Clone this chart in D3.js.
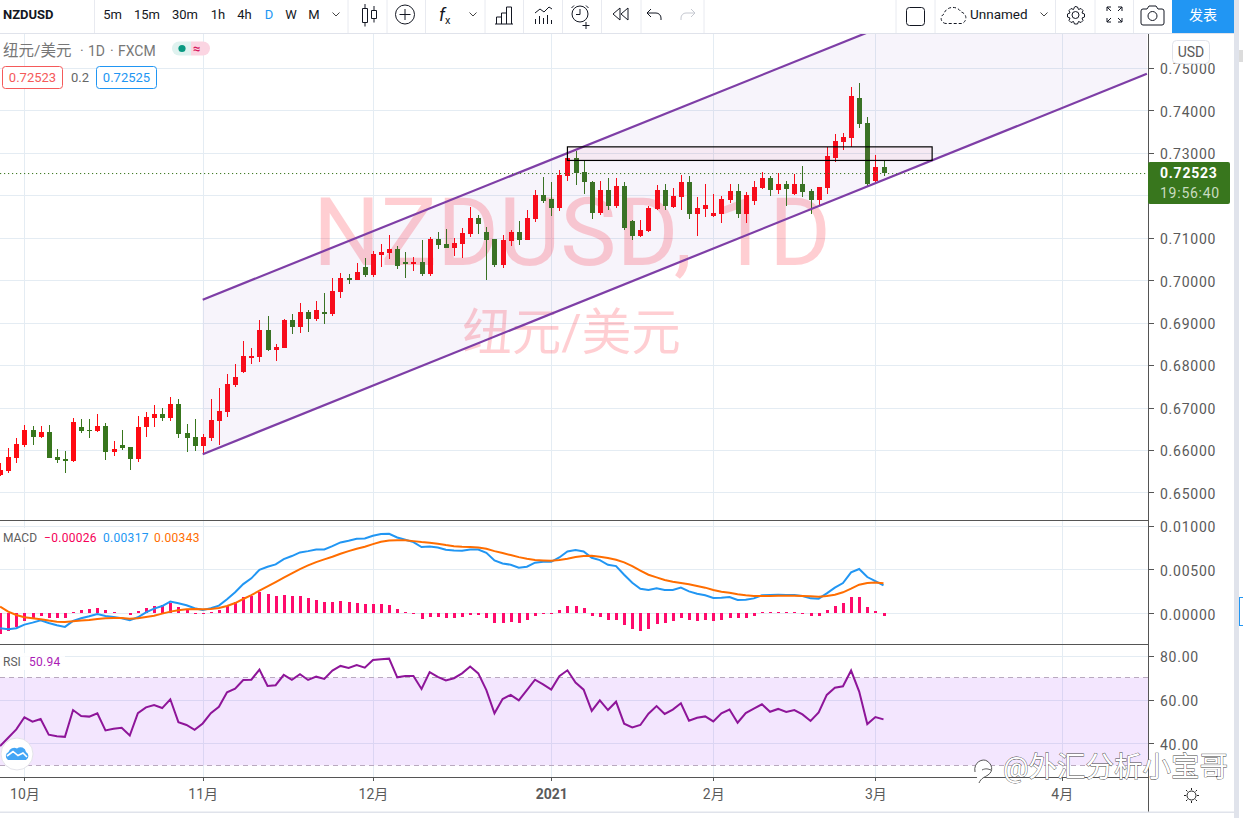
<!DOCTYPE html>
<html><head><meta charset="utf-8">
<style>html,body{margin:0;padding:0;background:#fff;overflow:hidden}svg{display:block}text{font-family:Roboto,"Noto Sans CJK SC",sans-serif}</style>
<script src="https://cdn.jsdelivr.net/npm/d3@7/dist/d3.min.js"></script>
</head><body><svg id="c" width="1243" height="818"></svg>
<script>
const opens=[.6541,.6551,.6582,.6612,.6647,.6631,.6642,.6583,.6578,.6574,
.6654,.6647,.6645,.6656,.6596,.6612,.6607,.6579,.6653,.6675,
.6685,.6675,.6708,.6640,.6630,.6609,.6628,.6668,.6689,.6753,
.6784,.6819,.6819,.6883,.6835,.6840,.6906,.6890,.6925,.6908,
.6925,.6920,.6972,.7005,.7000,.7031,.7012,.7059,.7064,.7073,
.7043,.7038,.7043,.7014,.7097,.7085,.7076,.7085,.7109,.7146,
.7113,.7097,.7036,.7092,.7113,.7095,.7144,.7201,.7191,.7170,
.7245,.7288,.7255,.7231,.7158,.7212,.7175,.7222,.7139,.7104,
.7116,.7168,.7212,.7172,.7196,.7231,.7156,.7168,.7151,.7156,
.7189,.7210,.7156,.7186,.7217,.7241,.7212,.7226,.7203,.7226,
.7210,.7189,.7217,.7288,.7325,.7335,.7429,.7370,.7234,.7267];
const highs=[.6569,.6605,.6628,.6659,.6657,.6657,.6659,.6602,.6597,.6675,
.6673,.6673,.6685,.6663,.6621,.6647,.6607,.6680,.6689,.6706,
.6699,.6725,.6720,.6661,.6673,.6637,.6720,.6746,.6779,.6802,
.6857,.6840,.6906,.6916,.6850,.6908,.6920,.6946,.6930,.6951,
.6970,.7005,.7017,.7015,.7040,.7052,.7069,.7085,.7106,.7080,
.7066,.7055,.7095,.7102,.7113,.7120,.7099,.7123,.7172,.7153,
.7125,.7097,.7106,.7118,.7139,.7165,.7212,.7243,.7231,.7259,
.7307,.7304,.7283,.7234,.7234,.7241,.7241,.7231,.7142,.7142,
.7175,.7224,.7226,.7217,.7248,.7245,.7196,.7226,.7203,.7198,
.7226,.7226,.7208,.7234,.7255,.7245,.7252,.7234,.7250,.7269,
.7215,.7219,.7314,.7344,.7347,.7455,.7464,.7384,.7295,.7281];
const lows=[.6539,.6546,.6570,.6607,.6612,.6628,.6582,.6570,.6546,.6572,
.6641,.6628,.6643,.6576,.6586,.6600,.6553,.6572,.6630,.6654,
.6668,.6668,.6628,.6595,.6597,.6589,.6621,.6612,.6678,.6749,
.6781,.6802,.6807,.6833,.6809,.6840,.6873,.6875,.6878,.6904,
.6897,.6916,.6958,.6991,.7000,.7007,.7007,.7031,.7050,.7026,
.7005,.7022,.7010,.7010,.7073,.7076,.7057,.7052,.7102,.7109,
.7000,.7031,.7029,.7080,.7083,.7095,.7137,.7182,.7151,.7163,
.7234,.7224,.7203,.7144,.7153,.7165,.7170,.7118,.7095,.7102,
.7113,.7165,.7165,.7170,.7165,.7144,.7104,.7149,.7149,.7135,
.7182,.7146,.7135,.7177,.7215,.7198,.7203,.7175,.7201,.7196,
.7156,.7175,.7203,.7278,.7307,.7314,.7358,.7222,.7229,.7245];
const closes=[.6553,.6583,.6613,.6647,.6631,.6642,.6582,.6576,.6574,.6667,
.6645,.6645,.6656,.6596,.6602,.6604,.6579,.6654,.6678,.6685,
.6675,.6708,.6638,.6628,.6609,.6630,.6671,.6692,.6755,.6772,
.6821,.6821,.6883,.6835,.6842,.6906,.6890,.6925,.6908,.6930,
.6920,.6974,.7005,.7000,.7019,.7012,.7062,.7066,.7073,.7033,
.7038,.7043,.7014,.7097,.7083,.7076,.7087,.7111,.7146,.7132,
.7095,.7036,.7095,.7113,.7095,.7146,.7201,.7186,.7170,.7248,
.7288,.7252,.7231,.7158,.7212,.7175,.7222,.7123,.7104,.7118,
.7170,.7212,.7175,.7198,.7231,.7156,.7170,.7177,.7158,.7191,
.7210,.7156,.7201,.7219,.7241,.7212,.7226,.7215,.7226,.7208,
.7189,.7219,.7292,.7328,.7337,.7434,.7368,.7226,.7267,.72523];
// MACD values in units of 0.00001
const macdLine=[-170,-182,-170,-129,-106,-80,-110,-136,-155,-87,
-57,-34,-8,-30,-42,-57,-80,-45,11,53,
83,133,114,91,57,38,57,87,159,239,
333,398,496,530,557,617,652,693,708,727,
727,765,807,826,849,852,883,902,905,864,
837,811,754,761,750,724,716,712,727,727,
689,602,568,553,519,530,576,587,587,636,
705,720,705,633,606,553,538,439,348,280,
265,284,265,265,292,250,223,205,174,178,
186,152,155,170,205,208,212,208,208,197,
170,167,227,292,345,466,504,413,367,317];
const signalLine=[76,19,-19,-45,-57,-68,-83,-95,-98,-91,
-83,-76,-64,-57,-53,-53,-61,-57,-42,-27,
-4,19,34,45,49,45,49,61,83,117,
163,208,258,307,356,405,455,504,545,583,
614,644,678,708,735,758,788,814,830,833,
833,822,811,803,792,777,765,758,754,750,
735,708,686,663,640,621,606,602,598,606,
621,640,652,655,644,629,610,580,538,485,
439,409,379,360,345,330,311,292,265,246,
235,216,205,197,197,197,201,201,201,197,
193,189,197,212,239,280,326,345,352,343];
const macdHist=[-235,-197,-159,-87,-57,-34,-49,-53,-53,19,
38,49,61,38,15,4,-19,27,61,83,
91,117,72,45,-8,-11,11,42,87,129,
186,193,242,220,197,208,197,197,174,152,
129,129,140,129,117,106,106,106,95,49,
15,-8,-61,-42,-42,-49,-49,-42,-19,-19,
-53,-106,-106,-95,-106,-76,-30,-8,-8,38,
83,83,61,-30,-42,-76,-76,-133,-178,-197,
-178,-121,-110,-87,-53,-76,-87,-76,-87,-76,
-53,-53,-49,-30,15,15,15,15,15,-8,
-30,-30,38,83,117,186,186,72,27,-26];
const rsiLine=[38.8,42.6,46.4,51.9,49.9,51.1,44.0,43.3,43.0,55.2,
52.5,52.2,53.7,45.9,46.7,47.1,43.6,53.8,56.4,57.5,
56.1,60.1,49.7,48.4,46.2,49.1,53.8,56.7,63.3,64.9,
68.9,69.0,73.6,66.2,66.5,71.2,69.0,71.5,68.9,70.4,
69.4,73.2,75.3,74.4,75.7,74.5,78.0,78.3,78.6,70.1,
70.7,70.7,64.8,72.5,70.3,68.7,69.7,71.9,75.0,71.9,
64.3,53.7,60.2,62.1,59.6,64.3,69.0,66.9,64.5,70.6,
73.3,67.7,64.5,54.8,59.6,55.2,59.0,49.0,47.3,48.4,
53.5,57.0,53.4,55.4,58.3,50.3,51.7,52.3,50.0,53.7,
55.4,49.4,53.8,55.8,57.8,54.4,55.7,54.3,55.2,53.2,
50.2,54.1,62.1,65.4,66.0,73.2,63.6,48.8,52.0,50.94];
const priceTicks=[.75,.74,.73,.72,.71,.70,.69,.68,.67,.66,.65];
const macdTicks=[1000,500,0];
const rsiTicks=[80,60,40];
const rsiBand=[70,30];
const monthIdx=[3,25,46,68,88,108,131];
const monthLabels=['10月','11月','12月','2021','2月','3月','4月'];
const channelIdx=[25,141.5];
const channelUpper=[.6954,.7848];
const channelLower=[.6590,.7486];
const boxIdx=[70,115];
const boxPrice=[.7314,.7282];
const lastPrice=.72523;
const timeframes=['5m','15m','30m','1h','4h','D','W','M'];

const svg=d3.select('#c');
const CW=1148;
const panes={main:[34,520],macd:[521,644],rsi:[645,777]};
const x=d3.scaleLinear().domain([0,109]).range([0.1,883.5]);
const yP=d3.scaleLinear().domain([.65,.75]).range([492.4,67.9]);
const yM=d3.scaleLinear().domain([0,1000]).range([613.3,525.5]);
const yR=d3.scaleLinear().domain([40,80]).range([743.4,655.6]);
const defs=svg.append('defs');
Object.entries(panes).forEach(([k,[a,b]])=>defs.append('clipPath').attr('id','clip-'+k).append('rect').attr('x',0).attr('y',a).attr('width',CW).attr('height',b-a));
const GRID='#e4ecf3',AXC='#555555',TXT='#5a5a5a';

// vertical month grid
const gridV=svg.append('g').attr('transform','translate(0,34)').attr('shape-rendering','crispEdges')
 .call(d3.axisBottom(x).tickValues(monthIdx).tickSize(743).tickFormat(''));
gridV.select('.domain').remove();gridV.selectAll('line').attr('stroke',GRID);
function hGrid(scale,ticks,clip){const g=svg.append('g').attr('clip-path','url(#clip-'+clip+')').attr('shape-rendering','crispEdges')
 .call(d3.axisRight(scale).tickValues(ticks).tickSize(CW).tickFormat(''));
 g.select('.domain').remove();g.selectAll('line').attr('stroke',GRID);}
hGrid(yP,priceTicks,'main');hGrid(yM,macdTicks,'macd');hGrid(yR,rsiTicks,'rsi');

// watermark
const wm=svg.append('g').attr('text-anchor','middle').attr('fill','rgba(255,30,50,.22)');
wm.append('text').attr('x',572).attr('y',265).attr('font-size',94.5).text('NZDUSD, 1D');
wm.append('text').attr('x',571.5).attr('y',350).attr('font-size',49.5).text('纽元/美元');

// candles
const idx=d3.range(opens.length);
const main=svg.append('g').attr('clip-path','url(#clip-main)');
const col=i=>closes[i]>=opens[i]?'#ff0a12':'#38761d';
const cg=main.append('g').attr('shape-rendering','crispEdges');
cg.selectAll('.w').data(idx).join('rect').attr('x',i=>Math.round(x(i))).attr('width',1)
 .attr('y',i=>yP(highs[i])).attr('height',i=>yP(lows[i])-yP(highs[i])).attr('fill',col);
cg.selectAll('.b').data(idx).join('rect').attr('x',i=>Math.round(x(i))-2).attr('width',5)
 .attr('y',i=>yP(Math.max(opens[i],closes[i]))).attr('height',i=>Math.max(1.5,Math.abs(yP(opens[i])-yP(closes[i])))).attr('fill',col);

// channel
const chPts=[[channelIdx[0],channelUpper[0]],[channelIdx[1],channelUpper[1]],[channelIdx[1],channelLower[1]],[channelIdx[0],channelLower[0]]];
main.append('path').attr('d',d3.line().x(d=>x(d[0])).y(d=>yP(d[1]))(chPts)+'Z').attr('fill','rgba(103,58,183,.055)');
[channelUpper,channelLower].forEach(c=>main.append('path').attr('d',d3.line().x((d,i)=>x(channelIdx[i])).y(d=>yP(d))(c)).attr('fill','none').attr('stroke','#7e3ea6').attr('stroke-width',2.2));
// box
main.append('rect').attr('x',x(boxIdx[0])).attr('y',yP(boxPrice[0])).attr('width',x(boxIdx[1])-x(boxIdx[0])).attr('height',yP(boxPrice[1])-yP(boxPrice[0]))
 .attr('fill','rgba(233,30,99,.05)').attr('stroke','#000').attr('stroke-width',1.2);
// last price line
main.append('line').attr('x1',0).attr('x2',CW).attr('y1',yP(lastPrice)+.5).attr('y2',yP(lastPrice)+.5).attr('stroke','#38761d').attr('stroke-dasharray','1.2 2.8');

// MACD
const mg=svg.append('g').attr('clip-path','url(#clip-macd)');
mg.append('g').attr('shape-rendering','crispEdges').selectAll('rect').data(idx).join('rect').attr('x',i=>Math.round(x(i))-1).attr('width',3)
 .attr('y',i=>Math.min(yM(0),yM(macdHist[i]))).attr('height',i=>Math.abs(yM(macdHist[i])-yM(0))).attr('fill','#ff0a6c');
const lineM=d3.line().x((d,i)=>x(i)).y(d=>yM(d));
mg.append('path').attr('d',lineM(macdLine)).attr('fill','none').attr('stroke','#2196f3').attr('stroke-width',2);
mg.append('path').attr('d',lineM(signalLine)).attr('fill','none').attr('stroke','#ff6d00').attr('stroke-width',2);

// RSI
const rg=svg.append('g').attr('clip-path','url(#clip-rsi)');
rg.append('rect').attr('x',0).attr('width',CW).attr('y',yR(rsiBand[0])).attr('height',yR(rsiBand[1])-yR(rsiBand[0])).attr('fill','rgba(160,50,250,.12)');
rsiBand.forEach(v=>rg.append('line').attr('x1',0).attr('x2',CW).attr('y1',yR(v)).attr('y2',yR(v)).attr('stroke','#b9a9bf').attr('stroke-dasharray','5 4').attr('shape-rendering','crispEdges'));
rg.append('path').attr('d',d3.line().x((d,i)=>x(i)).y(d=>yR(d))(rsiLine)).attr('fill','none').attr('stroke','#8e1599').attr('stroke-width',2);

// pane separators
[[520.5],[644.5]].forEach(([y])=>svg.append('line').attr('x1',0).attr('x2',CW).attr('y1',y).attr('y2',y).attr('stroke',AXC));
// price-axis column
function rAxis(scale,ticks,fmt){const g=svg.append('g').attr('transform','translate('+CW+',0)').attr('shape-rendering','crispEdges')
 .call(d3.axisRight(scale).tickValues(ticks).tickSize(6).tickPadding(6).tickFormat(fmt));
 g.select('.domain').remove();g.selectAll('line').attr('stroke',AXC);
 g.selectAll('text').attr('dy','.42em').attr('font-size',14).attr('fill',TXT).attr('letter-spacing','.75px').attr('shape-rendering','auto');}
// 0.72000 sits under the last-price tag, so its label stays empty as in the reference
rAxis(yP,priceTicks,d=>d===.72?'':d3.format('.5f')(d));
rAxis(yM,macdTicks,d=>(d/1e5).toFixed(5));
rAxis(yR,rsiTicks,d3.format('.2f'));
svg.append('line').attr('x1',CW+.5).attr('x2',CW+.5).attr('y1',34).attr('y2',812).attr('stroke',AXC);
// time axis
const tg=svg.append('g').attr('transform','translate(0,777)').attr('shape-rendering','crispEdges')
 .call(d3.axisBottom(x).tickValues(monthIdx).tickSize(4).tickPadding(8).tickFormat((d,i)=>monthLabels[i]));
tg.select('.domain').attr('d','M0,0.5H'+CW).attr('stroke',AXC);tg.selectAll('line').attr('stroke',AXC);
tg.selectAll('text').attr('font-size',14).attr('fill',TXT).attr('font-weight',d=>d===68?700:400);

// last-price tag
const tag=svg.append('g');
tag.append('rect').attr('x',CW).attr('y',162).attr('width',82).attr('height',42).attr('rx',2).attr('fill','#38761d');
tag.append('text').attr('x',1160).attr('y',178).attr('font-size',14).attr('font-weight',700).attr('letter-spacing','.75px').attr('fill','#fff').text(lastPrice.toFixed(5));
tag.append('text').attr('x',1160).attr('y',198).attr('font-size',14).attr('letter-spacing','.75px').attr('fill','#c9dcc0').text('19:56:40');
// USD
svg.append('rect').attr('x',1172.5).attr('y',40.5).attr('width',37).attr('height',23).attr('rx',4).attr('fill','rgba(255,255,255,.9)').attr('stroke','#e0e3eb');
svg.append('text').attr('x',1191).attr('y',57).attr('text-anchor','middle').attr('font-size',14).attr('fill',TXT).text('USD');

// legends
function tx(g,xx,y,s,size,fill,extra){const t=g.append('text').attr('x',xx).attr('y',y).attr('font-size',size).attr('fill',fill).text(s);if(extra)Object.entries(extra).forEach(([k,v])=>t.attr(k,v));return t;}
const lg=svg.append('g');
lg.append('rect').attr('x',0).attr('y',528).attr('width',203).attr('height',19).attr('fill','rgba(255,255,255,.85)');
tx(lg,3,542,'MACD',12,'#5e5e5e');
tx(lg,44,542,'−0.00026',12,'#f50057',{'letter-spacing':'.3px'});
tx(lg,103,542,'0.00317',12,'#2196f3',{'letter-spacing':'.3px'});
tx(lg,154,542,'0.00343',12,'#ff6d00',{'letter-spacing':'.3px'});
lg.append('rect').attr('x',0).attr('y',653).attr('width',65).attr('height',17).attr('fill','rgba(255,255,255,.85)');
tx(lg,3,666,'RSI',12,'#5e5e5e');
tx(lg,29,666,'50.94',12,'#ab1bb5',{'letter-spacing':'.3px'});
tx(lg,3,56,'纽元/美元',15.5,'#777');
tx(lg,80,56,'·',14,'#777');
tx(lg,88,56,'1D',14,'#777');
tx(lg,110,56,'·',14,'#777');
tx(lg,118,56,'FXCM',14,'#777');
lg.append('path').attr('d','M179,41.5h12v14h-12a7,7 0 0 1 0,-14Z').attr('fill','#dff2ef');
lg.append('path').attr('d','M191,41.5h12a7,7 0 0 1 0,14h-12Z').attr('fill','#fbd5e2');
lg.append('circle').attr('cx',182).attr('cy',48.5).attr('r',3.6).attr('fill','#089981');
tx(lg,196.5,53,'≈',13,'#d81b60',{'text-anchor':'middle','font-weight':700});
lg.append('rect').attr('x',2.5).attr('y',66.5).attr('width',60).attr('height',22).attr('rx',3).attr('fill','#fff').attr('stroke','#f55a5a');
tx(lg,32.5,82,'0.72523',13,'#f55a5a',{'text-anchor':'middle'});
tx(lg,71,82,'0.2',13,'#666');
lg.append('rect').attr('x',96.5).attr('y',66.5).attr('width',60).attr('height',22).attr('rx',3).attr('fill','#fff').attr('stroke','#2196f3');
tx(lg,126.5,82,'0.72525',13,'#2196f3',{'text-anchor':'middle'});

// toolbar
const tb=svg.append('g');
tb.append('rect').attr('width',1243).attr('height',33).attr('fill','#fff');
tb.append('line').attr('x1',0).attr('x2',1234).attr('y1',33.5).attr('y2',33.5).attr('stroke','#e0e3eb');
[94,347.5,386.5,425,484.5,523,562,601,640.5,703.5,895.5,934.5,1055,1094.5,1133].forEach(v=>tb.append('line').attr('x1',v+.5).attr('x2',v+.5).attr('y1',0).attr('y2',33).attr('stroke','#e8eaf0'));
tx(tb,3,19,'NZDUSD',13,'#131722',{'font-weight':700});
const tfx=[112.5,147,185,218,244.5,269,291,314];
timeframes.forEach((t,i)=>tx(tb,tfx[i],19,t,13,t==='D'?'#2196f3':'#131722',{'text-anchor':'middle'}));
const ic=(d,stroke='#131722',w=1)=>tb.append('path').attr('d',d).attr('fill','none').attr('stroke',stroke).attr('stroke-width',w);
const chev=c=>ic(`M${c-3.5},12.5l3.5,3.5l3.5,-3.5`,'#444');
chev(336);chev(473);chev(1044);
ic('M362.5,8.5h5v14h-5zM365,4v4.5M365,22.5v4M371.5,10.5h5v8h-5zM374,6v4.5M374,18.5v4');
tb.append('circle').attr('cx',405).attr('cy',14.5).attr('r',9.5).attr('fill','none').attr('stroke','#131722');
ic('M405,9v11M399.5,14.5h11');
tx(tb,439,21,'f',18,'#131722',{'font-style':'italic','font-family':'"Liberation Serif",serif'});
tx(tb,445,24,'x',11,'#131722');
ic('M496.5,24v-7h5v7M501.5,24v-11h5v11M506.5,24v-17h5v17M495,24h18');
ic('M535,13l5,-4l4,3l5,-5l3,2M535.5,24v-5M539.5,24v-8M543.5,24v-6M547.5,24v-9M551.5,24v-4');
tb.append('circle').attr('cx',580).attr('cy',14).attr('r',8).attr('fill','none').attr('stroke','#131722');
ic('M580,9v5.5h-4M574,5.5l-2.5,2.5M586,5.5l2.5,2.5M586,22v7M582.5,25.5h7');
ic('M620,8v12l-7,-6zM628,8v12l-7,-6z');
ic('M651,9l-4,4l4,4M647,13h9a5,5 0 0 1 5,5v2');
ic('M691,9l4,4l-4,4M695,13h-9a5,5 0 0 0 -5,5v2','#c5c8d0');
tb.append('rect').attr('x',906.5).attr('y',7.5).attr('width',18).attr('height',18).attr('rx',3).attr('fill','none').attr('stroke','#131722');
ic('M946,23.5a5,5 0 0 1 -2,-9.5a9,8 0 0 1 17,-2a6,6 0 0 1 1,11.5z','#131722').attr('stroke-dasharray','3 2');
tx(tb,970,19,'Unnamed',13.5,'#131722');
ic('M1075,6.5l2.5,0.5l1,2.5l2.5,-1l2,2l-1,2.5l2.5,1v3l-2.5,1l1,2.5l-2,2l-2.5,-1l-1,2.5h-3l-1,-2.5l-2.5,1l-2,-2l1,-2.5l-2.5,-1v-3l2.5,-1l-1,-2.5l2,-2l2.5,1l1,-2.5z');
tb.append('circle').attr('cx',1075.5).attr('cy',15).attr('r',3.5).attr('fill','none').attr('stroke','#131722');
ic('M1107,11V7h4M1122,11V7h-4M1107,18v4h4M1122,18v4h-4M1107,7l4,4M1122,7l-4,4M1107,22l4,-4M1122,22l-4,-4');
ic('M1143,9h4l2,-3h7l2,3h4a2,2 0 0 1 2,2v12a2,2 0 0 1 -2,2h-19a2,2 0 0 1 -2,-2V11a2,2 0 0 1 2,-2z');
tb.append('circle').attr('cx',1152.5).attr('cy',16).attr('r',4.5).attr('fill','none').attr('stroke','#131722');
tb.append('rect').attr('x',1172).attr('y',0).attr('width',62).attr('height',33).attr('fill','#2196f3');
tx(tb,1203,20,'发表',14,'#fff',{'text-anchor':'middle'});

// page edges
const ed=svg.append('g');
ed.append('rect').attr('x',1234).attr('y',0).attr('width',5).attr('height',818).attr('fill','#e0e3eb');
ed.append('rect').attr('x',1239).attr('y',50).attr('width',4).attr('height',12).attr('fill','#dcdcdc');
ed.append('rect').attr('x',1239.5).attr('y',597.5).attr('width',6).attr('height',28).attr('fill','#fff').attr('stroke','#2196f3');
ed.append('line').attr('x1',0).attr('x2',1234).attr('y1',812.5).attr('y2',812.5).attr('stroke','#e0e3eb').attr('stroke-width',2);
ed.append('rect').attr('x',0).attr('y',813).attr('width',1234).attr('height',5).attr('fill','#fff');
// gear of the time axis
ed.append('circle').attr('cx',1191.5).attr('cy',795.5).attr('r',4.5).attr('fill','none').attr('stroke','#222');
ed.append('path').attr('d','M1191.5,788v2M1191.5,801v2M1184,795.5h2M1197,795.5h2M1186,790l1.5,1.5M1197,790l-1.5,1.5M1186,801l1.5,-1.5M1197,801l-1.5,-1.5').attr('stroke','#222');
// cloud logo bottom-left
const lo=svg.append('g');
lo.append('circle').attr('cx',17).attr('cy',754).attr('r',16).attr('fill','#fff').attr('stroke','#e4e4ea');
lo.append('path').attr('d','M8,760a4.5,4.5 0 0 1 0.5,-8a6,6 0 0 1 8.5,-3.5a5.5,5.5 0 0 1 9,3.5a4.5,4.5 0 0 1 0,8z').attr('fill','#42a5f5');
lo.append('path').attr('d','M7,756l6,-4.5l5,4l5,-2.5l4,4').attr('fill','none').attr('stroke','#fff').attr('stroke-width',1.6);
// publisher mark
const pm=svg.append('g');
pm.append('text').attr('x',1003).attr('y',777).attr('font-size',28.5).attr('fill','#fff').attr('stroke','#444').attr('stroke-width',.8).attr('paint-order','stroke').text('@外汇分析小宝哥');
pm.append('path').attr('d','M975,772c-2,-10 8,-14 12,-11c5,3 7,10 1,14c-3,2 -7,3 -9,8M982,770c4,-2 6,-1 9,0').attr('fill','#fff').attr('stroke','#555').attr('stroke-width',1);
</script></body></html>
